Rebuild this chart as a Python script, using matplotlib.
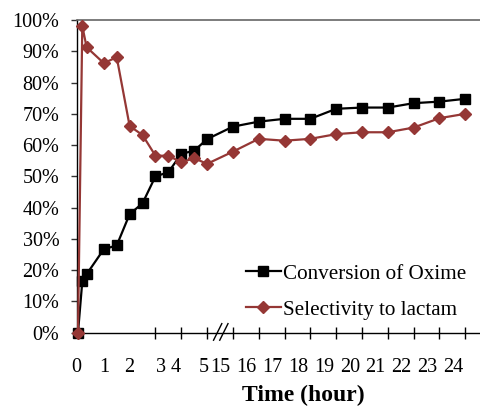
import matplotlib
matplotlib.use("Agg")
import matplotlib.pyplot as plt
import matplotlib.transforms as mtransforms
from matplotlib.ticker import FixedLocator, PercentFormatter

# Reaction time (hours) and measured performance (%)
time_h = [0, 1/6, 1/3, 1, 1.5, 2, 2.5, 3, 3.5, 4, 4.5, 5,
          15, 16, 17, 18, 19, 20, 21, 22, 23, 24]
conversion = [0, 16.4, 18.7, 26.7, 27.9, 37.9, 41.4, 50.0, 51.3, 57.2, 58.2, 61.9,
              65.9, 67.5, 68.4, 68.4, 71.6, 72.0, 72.0, 73.4, 73.9, 74.8]
selectivity = [0, 98.1, 91.3, 86.2, 88.1, 66.1, 63.2, 56.6, 56.6, 54.5, 55.8, 54.0,
               57.9, 62.0, 61.4, 62.0, 63.5, 64.1, 64.1, 65.6, 68.6, 70.0]
tick_hours = [0, 1, 2, 3, 4, 5, 15, 16, 17, 18, 19, 20, 21, 22, 23, 24]
series_names = ["Conversion of Oxime", "Selectivity to lactam"]

# Broken time axis: the gap between 5 h and 15 h is collapsed to one unit
BREAK_START, BREAK_END = 5, 15


def axis_pos(t):
    return t if t <= BREAK_START else t - (BREAK_END - BREAK_START - 1)


plt.rcParams["font.family"] = ["Liberation Serif", "DejaVu Serif"]

fig = plt.figure(figsize=(4.8, 4.08), dpi=100)
ax = fig.add_axes([76.7 / 480, 1 - 332.7 / 408, 1 - 76.7 / 480, (332.7 - 20) / 408])

RED = "#953735"
x = [axis_pos(t) for t in time_h]
ax.plot(x, conversion, color="black", lw=1.6, marker="s", ms=7.0,
        mfc="black", mec="black", clip_on=False, zorder=3, label=series_names[0])
ax.plot(x, selectivity, color=RED, lw=1.6, marker="D", ms=6.3,
        mfc=RED, mec=RED, clip_on=False, zorder=4, label=series_names[1])

ax.set_xlim(0, 15.57)
ax.set_ylim(0, 100)

# y axis
ax.yaxis.set_major_locator(FixedLocator(range(0, 101, 10)))
ax.yaxis.set_major_formatter(PercentFormatter(decimals=0))
ax.tick_params(axis="y", direction="out", length=4.5, width=1, pad=8,
               labelsize=14.5, color="#333333")

# x axis: tick marks at each hour, labels placed as set in the typeset axis
tick_pos = [axis_pos(t) for t in tick_hours]
label_shift = [-0.05, 0, 0, 0.2, -0.2, -0.12] + [-0.47] * 10
ax.xaxis.set_minor_locator(FixedLocator(tick_pos))
ax.set_xticks([p + s for p, s in zip(tick_pos, label_shift)])
ax.set_xticklabels([str(t) for t in tick_hours])
ax.tick_params(axis="x", which="major", length=0, pad=18, labelsize=14.5)
ax.tick_params(axis="x", which="minor", direction="inout", length=8.6,
               width=1, color="black")

for side in ("left", "bottom"):
    ax.spines[side].set_color("black")
    ax.spines[side].set_linewidth(1.0)
ax.spines["right"].set_visible(False)
ax.spines["top"].set_color("#666666")
ax.spines["top"].set_linewidth(1.2)

# break marks on the time axis
brk = (axis_pos(BREAK_START) + 0.53)
trans = mtransforms.blended_transform_factory(ax.transData, ax.transAxes)
for dx in (-0.12, 0.12):
    ax.plot([brk + dx - 0.16, brk + dx + 0.16], [-0.024, 0.029], color="black",
            lw=1.0, transform=trans, clip_on=False, zorder=5)

ax.set_xlabel("Time (hour)", fontsize=17, fontweight="bold")
ax.xaxis.set_label_coords((303 - 76.7) / (480 - 76.7), -(403 - 332.7) / (332.7 - 20) + 0.005,
                          transform=ax.transAxes)
ax.xaxis.label.set_va("baseline")

leg = ax.legend(loc="upper left", bbox_to_anchor=(246 / 480, 1 - 264 / 408),
                bbox_transform=fig.transFigure, frameon=False, fontsize=15.2,
                handlelength=1.65, handletextpad=0.12, labelspacing=0.76,
                borderpad=0, borderaxespad=0, numpoints=1)

fig.savefig("out.png", dpi=100)
